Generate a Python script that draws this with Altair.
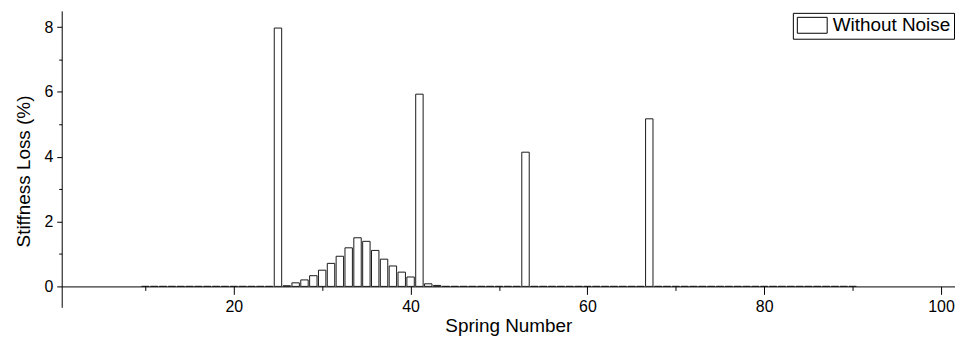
import altair as alt
import pandas as pd

# Spring numbers carrying a bar (zero-height bars are drawn as outlines on the baseline)
springs = list(range(10, 91))
damaged_springs = [25, 26, 27, 28, 29, 30, 31, 32, 33, 34, 35, 36, 37, 38, 39, 40, 41, 42, 43, 53, 67]
stiffness_loss = [7.97, 0.02, 0.11, 0.20, 0.33, 0.50, 0.71, 0.93, 1.19, 1.50, 1.39, 1.11,
                  0.84, 0.63, 0.44, 0.29, 5.93, 0.08, 0.03, 4.14, 5.17]
series_name = "Without Noise"

x_ticks = [10, 20, 30, 40, 50, 60, 70, 80, 90, 100]
y_ticks = [0, 1, 2, 3, 4, 5, 6, 7, 8]

lookup = dict(zip(damaged_springs, stiffness_loss))
df = pd.DataFrame({
    "spring": springs,
    "loss": [lookup.get(s, 0.0) for s in springs],
    "series": [series_name] * len(springs),
})

FONT = "Liberation Sans"

x_scale = alt.Scale(domain=[0.54, 101.58], nice=False, zero=False)
y_scale = alt.Scale(domain=[-0.645, 8.5], nice=False, zero=False)

# wide rectangle swatch: 16px tall, 30px wide (size 256 -> 8px per unit)
legend_symbol = "M-1,-1H2.75V1H-1Z"

chart = (
    alt.Chart(df)
    .transform_calculate(x0="datum.spring - 0.42", x1="datum.spring + 0.42")
    .mark_bar(stroke="#1a1a1a", strokeWidth=1, fillOpacity=1)
    .encode(
        x=alt.X(
            "x0:Q",
            scale=x_scale,
            axis=alt.Axis(
                values=x_ticks,
                title="Spring Number",
                offset=-21,
                grid=False,
                format="d",
                tickSize={"condition": {"test": "datum.value % 20 === 0", "value": 8}, "value": 4},
                labelExpr="datum.value % 20 === 0 ? datum.label : ''",
                labelPadding=4,
                labelFontSize=16,
                labelFont=FONT,
                labelColor="black",
                titleFont=FONT,
                titleFontSize=19,
                titleFontWeight="normal",
                titleColor="black",
                titlePadding=2,
                domainColor="black",
                tickColor="black",
                labelFlush=False,
            ),
        ),
        x2="x1:Q",
        y=alt.Y(
            "loss:Q",
            scale=y_scale,
            axis=alt.Axis(
                values=y_ticks,
                title="Stiffness Loss (%)",
                grid=False,
                format="d",
                tickSize={"condition": {"test": "datum.value % 2 === 0", "value": 5}, "value": 3},
                labelExpr="datum.value % 2 === 0 ? datum.label : ''",
                labelPadding=4,
                labelFontSize=16,
                labelFont=FONT,
                labelColor="black",
                titleFont=FONT,
                titleFontSize=19,
                titleFontWeight="normal",
                titleColor="black",
                titlePadding=10,
                titleY=161,
                domainColor="black",
                tickColor="black",
                labelFlush=False,
            ),
        ),
        y2=alt.datum(0),
        fill=alt.Fill(
            "series:N",
            scale=alt.Scale(range=["white"]),
            legend=alt.Legend(
                title=None,
                orient="none",
                legendX=735,
                legendY=2,
                symbolType=legend_symbol,
                symbolSize=256,
                symbolStrokeColor="black",
                symbolFillColor="white",
                symbolStrokeWidth=1,
                symbolOpacity=1,
                labelFont=FONT,
                labelFontSize=19,
                labelColor="black",
                labelOffset=18,
                padding=3,
                strokeColor="black",
                fillColor="white",
            ),
        ),
    )
    .properties(
        width=898,
        height=298,
        autosize=alt.AutoSizeParams(type="none"),
        padding={"left": 54, "top": 2, "right": 0, "bottom": 36},
    )
    .configure_view(stroke=None)
)

chart.save("out.html", embed_options={"renderer": "svg", "actions": False})
